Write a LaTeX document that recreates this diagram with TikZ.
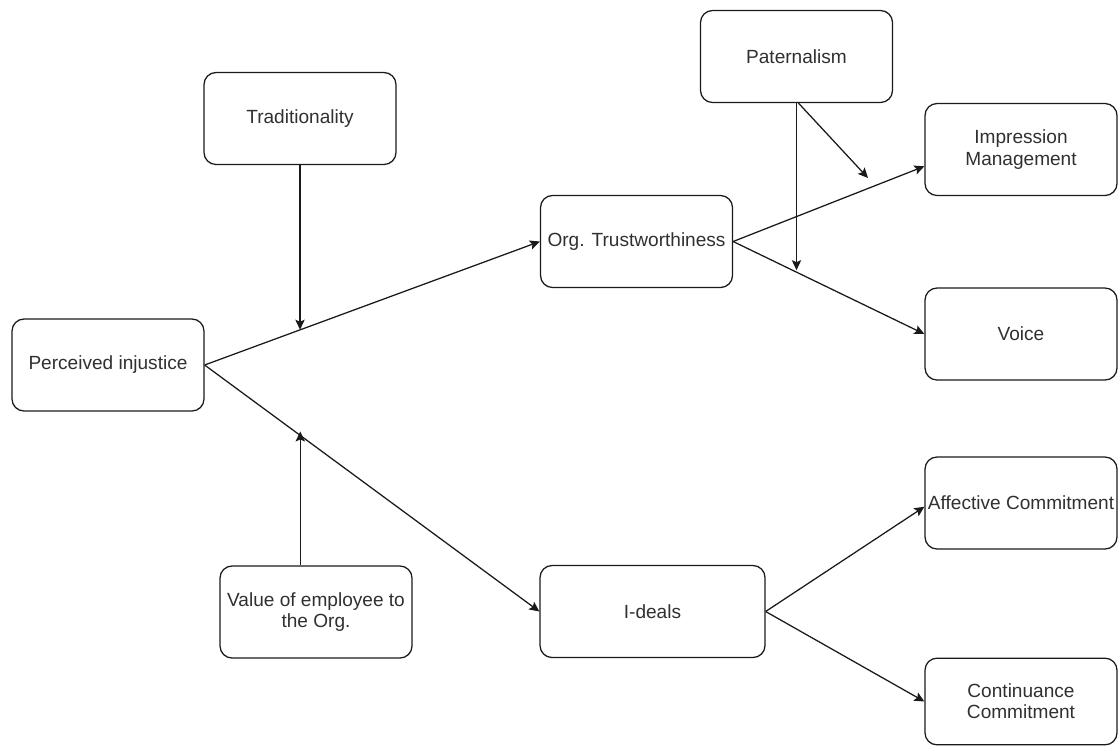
\documentclass[tikz,border=0pt]{standalone}
\usepackage{fontspec}
\setmainfont{Liberation Sans}
\usepackage{tikz}
\usetikzlibrary{arrows.meta,positioning,calc}
\definecolor{ink}{HTML}{1A1A1A}
\definecolor{txt}{HTML}{303030}
\tikzset{
  >={Stealth[length=7.5pt,width=7pt,inset=1.5pt]},
  box/.style={draw=ink,rounded corners=9pt,line width=0.95pt,inner sep=0pt,
    minimum width=144pt,minimum height=69pt,align=center,text=txt,
    font=\fontsize{14.3}{16}\selectfont},
  wbox/.style={box,minimum width=168.75pt},
  arr/.style={->,draw=ink,line width=0.95pt},
}

\begin{document}
\begin{tikzpicture}[x=0.75pt,y=-0.75pt]
\useasboundingbox (0,0) rectangle (1120,747);
% Left: injustice and its moderators
\node[box] (perc) at (108,365) {Perceived injustice};
\node[box] (trad) at (300,118.5) {Traditionality};
\node[box] (value) at (316,612) {Value of employee to\\the Org.};
% Middle: mediators
\node[box] (trust) at (636.5,241.5) {Org. Trustworthiness};
\node[wbox] (ideals) at (652.5,611.5) {I-deals};
% Right: outcomes
\node[box] (pat) at (796.5,56.5) {Paternalism};
\node[box] (impr) at (1021,149.5) {Impression\\Management};
\node[box] (voice) at (1021,334) {Voice};
\node[box] (aff) at (1021,503) {Affective Commitment};
\node[box,minimum height=65pt] (cont) at (1021,701.5) {Continuance\\Commitment};
% Points hit by moderating arrows
\coordinate (tradhit) at ($(perc.east)!0.2857!(trust.west)$);
\coordinate (valhit) at ($(perc.east)!0.2857!(ideals.west)$);
\coordinate (pathit) at ($(trust.east)!0.31!(voice.west)$);
\coordinate (patimp) at (868,178);
\coordinate (imprin) at ($(impr.north west)!0.68!(impr.south west)$);
\coordinate (affin) at ($(aff.north west)!0.54!(aff.south west)$);
% Main paths
\draw[arr] (perc.east) -- (trust.west);
\draw[arr] (perc.east) -- (ideals.west);
\draw[arr] (trust.east) -- (imprin);
\draw[arr] (trust.east) -- (voice.west);
\draw[arr] (ideals.east) -- (affin);
\draw[arr] (ideals.east) -- (cont.west);
% Moderators
\draw[arr] (trad.south) -- (trad.south |- tradhit);
\draw[arr] (valhit |- value.north) -- ($(valhit)+(0,-4)$);
\draw[arr] (pat.south) -- (pat.south |- pathit);
\draw[arr] ($(pat.south)+(2,0)$) -- (patimp);
\end{tikzpicture}
\end{document}
